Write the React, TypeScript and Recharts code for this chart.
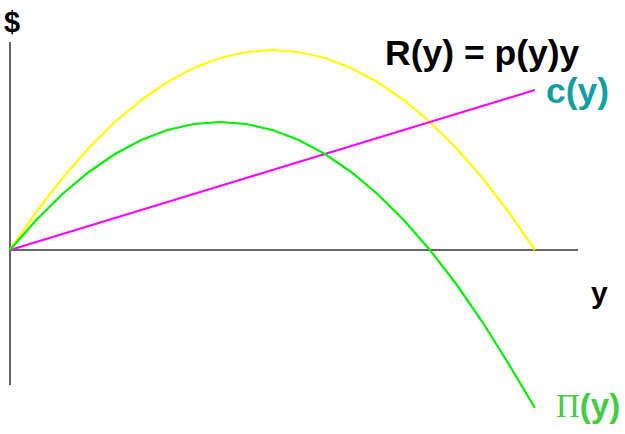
import { LineChart, Line, XAxis, YAxis, ReferenceLine } from "recharts";

// output level, 21 evenly spaced steps
const outputs = [0, 1, 2, 3, 4, 5, 6, 7, 8, 9, 10, 11, 12, 13, 14, 15, 16, 17, 18, 19, 20];
// R(y) = p(y)y
const revenue = [0, 38, 72, 102, 128, 150, 168, 182, 192, 198, 200, 198, 192, 182, 168, 150, 128, 102, 72, 38, 0];
// c(y)
const cost = [0, 8, 16, 24, 32, 40, 48, 56, 64, 72, 80, 88, 96, 104, 112, 120, 128, 136, 144, 152, 160];
// Π(y)
const profit = [0, 30, 56, 78, 96, 110, 120, 126, 128, 126, 120, 110, 96, 78, 56, 30, 0, -34, -72, -114, -158];

const data = outputs.map((x, i) => ({ x, revenue: revenue[i], cost: cost[i], profit: profit[i] }));

const W = 625;
const H = 434;
const bold = { fontFamily: "Liberation Sans, Arial, sans-serif", fontWeight: 700 };

const App = () => {
  return (
    <div style={{ position: "absolute", left: 0, top: 0, width: W, height: H, background: "#fff" }}>
      <LineChart width={W} height={H} data={data} margin={{ top: 42, right: 47, bottom: 24, left: 10 }}>
        <XAxis type="number" dataKey="x" domain={[0, 21.64]} hide />
        <YAxis type="number" domain={[-160, 208]} hide width={0} />
        <ReferenceLine segment={[{ x: 0, y: 208 }, { x: 0, y: -135 }]} stroke="#333" strokeWidth={1.5} />
        <ReferenceLine segment={[{ x: 0, y: 0 }, { x: 21.64, y: 0 }]} stroke="#333" strokeWidth={1.5} />
        <Line type="linear" dataKey="revenue" stroke="#ffff00" strokeWidth={2.2} dot={false} isAnimationActive={false} />
        <Line type="linear" dataKey="cost" stroke="#ff00ff" strokeWidth={2.2} dot={false} isAnimationActive={false} />
        <Line type="linear" dataKey="profit" stroke="#00ee00" strokeWidth={2.2} dot={false} isAnimationActive={false} />
      </LineChart>
      <svg width={W} height={H} style={{ position: "absolute", left: 0, top: 0, pointerEvents: "none" }}>
        <text x={4} y={32} fontSize={29} fill="#000" style={bold}>$</text>
        <text x={385} y={65} fontSize={35.5} fill="#000" style={bold}>R(y) = p(y)y</text>
        <text x={546} y={103} fontSize={35.5} fill="#11a0a0" style={bold}>c(y)</text>
        <text x={591} y={303} fontSize={30} fill="#000" style={bold}>y</text>
        <text x={556} y={417} fontSize={33} fill="#44cc44">
          <tspan style={{ fontFamily: "Liberation Serif, Times New Roman, serif" }}>Π</tspan>
          <tspan style={bold}>(y)</tspan>
        </text>
      </svg>
    </div>
  );
};

export default App;
